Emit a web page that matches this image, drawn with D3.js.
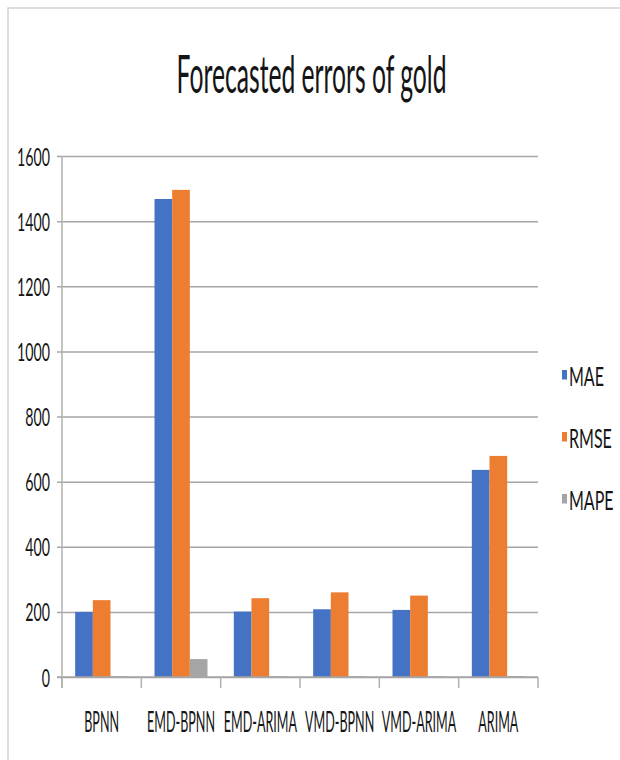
<!DOCTYPE html>
<html>
<head>
<meta charset="utf-8">
<script src="https://cdn.jsdelivr.net/npm/d3@7"></script>
<style>
  html, body { margin: 0; padding: 0; background: #ffffff; }
  svg { display: block; }
  text { font-family: Lato, "Open Sans", "DejaVu Sans", sans-serif; fill: #151515; }
</style>
</head>
<body>
<svg id="chart" width="620" height="760"></svg>
<script>
// Error measures for each forecasting model
const categories = ["BPNN", "EMD-BPNN", "EMD-ARIMA", "VMD-BPNN", "VMD-ARIMA", "ARIMA"];
const seriesNames = ["MAE", "RMSE", "MAPE"];
const maeValues  = [200, 1468, 201, 208, 206, 636];
const rmseValues = [236, 1496, 242, 260, 250, 679];
const mapeValues = [2, 55, 2, 2, 2, 3];
const yTicks = [0, 200, 400, 600, 800, 1000, 1200, 1400, 1600];
const titleText = "Forecasted errors of gold";

const colors = { MAE: "#4472C4", RMSE: "#ED7D31", MAPE: "#A5A5A5" };
const seriesValues = { MAE: maeValues, RMSE: rmseValues, MAPE: mapeValues };

const svg = d3.select("#chart");

// Chart frame (only top and left edges fall inside the view)
svg.append("rect")
  .attr("x", 8).attr("y", 8)
  .attr("width", 640).attr("height", 780)
  .attr("fill", "none")
  .attr("stroke", "#d4d4d4")
  .attr("stroke-width", 1.5);

// Narrow each text horizontally around its anchor point
function squeeze(sel, factor) {
  sel.each(function () {
    const t = d3.select(this);
    const x = +t.attr("x") || 0;
    const yy = +t.attr("y") || 0;
    t.attr("x", 0).attr("y", 0)
      .attr("transform", `translate(${x},${yy}) scale(${factor},1)`);
  });
}
function factorFor(sample, size, target) {
  const t = svg.append("text").attr("font-size", size).text(sample);
  const w = t.node().getComputedTextLength();
  t.remove();
  return target / w;
}

const plot = { left: 62, right: 538, top: 156, bottom: 677 };

const y = d3.scaleLinear().domain([0, 1600]).range([plot.bottom, plot.top]);
const x0 = d3.scaleBand().domain(categories).range([plot.left, plot.right])
  .paddingInner(0.332).paddingOuter(0.166);
const x1 = d3.scaleBand().domain(seriesNames).range([0, x0.bandwidth()]).padding(0);

// Title
const title = svg.append("text")
  .attr("x", 311.5).attr("y", 92.5)
  .attr("text-anchor", "middle")
  .attr("font-size", 52)
  .text(titleText);
squeeze(title, factorFor(titleText, 52, 270));

// Horizontal gridlines with short ticks to the left of the axis
const yAxis = d3.axisLeft(y).tickValues(yTicks)
  .tickSize(-(plot.right - plot.left + 5)).tickSizeOuter(0)
  .tickFormat(d3.format("d")).tickPadding(0);
const gy = svg.append("g")
  .attr("transform", `translate(${plot.left - 5},0)`)
  .call(yAxis);
gy.select(".domain").remove();
gy.selectAll(".tick line")
  .attr("stroke", "#a6a6a6").attr("stroke-width", 1.5);
gy.selectAll(".tick text")
  .attr("x", 50 - (plot.left - 5))
  .attr("dy", null)
  .attr("y", 9)
  .attr("font-size", 25.5)
  .attr("fill", "#151515")
  .style("font-family", "Lato, 'Open Sans', sans-serif");
squeeze(gy.selectAll(".tick text"), factorFor("1600", 25.5, 33));

// Vertical axis line
svg.append("line")
  .attr("x1", plot.left).attr("x2", plot.left)
  .attr("y1", plot.top).attr("y2", plot.bottom + 11)
  .attr("stroke", "#b0b0b0").attr("stroke-width", 1.5);

// Bars
const groups = svg.append("g").selectAll("g")
  .data(categories)
  .join("g")
  .attr("transform", d => `translate(${x0(d)},0)`);

groups.selectAll("rect")
  .data((c, i) => seriesNames.map(s => ({ s, v: seriesValues[s][i] })))
  .join("rect")
  .attr("x", d => x1(d.s))
  .attr("width", x1.bandwidth())
  .attr("y", d => y(d.v))
  .attr("height", d => y(0) - y(d.v))
  .attr("fill", d => colors[d.s]);

// Category axis: baseline and tick marks between categories
const xAxis = d3.axisBottom(x0).tickSize(0).tickSizeOuter(0).tickPadding(0);
const gx = svg.append("g")
  .attr("transform", `translate(0,${plot.bottom})`)
  .call(xAxis);
gx.select(".domain")
  .attr("stroke", "#a6a6a6").attr("stroke-width", 1.5)
  .attr("d", `M${plot.left - 5},0H${plot.right}`);
gx.selectAll(".tick line").remove();
gx.selectAll(".tick text")
  .attr("y", 55)
  .attr("dy", null)
  .attr("font-size", 29)
  .attr("fill", "#151515")
  .style("font-family", "Lato, 'Open Sans', sans-serif");
squeeze(gx.selectAll(".tick text"), factorFor("EMD-BPNN", 29, 68));

const boundaries = d3.range(categories.length + 1)
  .map(i => plot.left + i * x0.step());
gx.selectAll(".sep")
  .data(boundaries)
  .join("line")
  .attr("class", "sep")
  .attr("x1", d => d).attr("x2", d => d)
  .attr("y1", 0).attr("y2", 11)
  .attr("stroke", "#b0b0b0").attr("stroke-width", 1.5);

// Legend
const legend = svg.append("g");
const legendRows = legend.selectAll("g")
  .data(seriesNames)
  .join("g")
  .attr("transform", (d, i) => `translate(562,${386 + i * 62})`);
legendRows.append("rect")
  .attr("x", 0).attr("y", -16)
  .attr("width", 5).attr("height", 9.5)
  .attr("fill", d => colors[d]);
const legendText = legendRows.append("text")
  .attr("x", 7).attr("y", 0)
  .attr("font-size", 27)
  .text(d => d);
squeeze(legendText, factorFor("MAE", 27, 35));
</script>
</body>
</html>
